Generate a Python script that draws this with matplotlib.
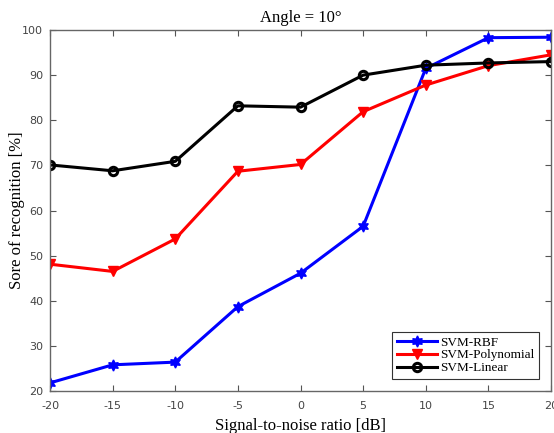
import matplotlib.pyplot as plt
import numpy as np

# data
snr = [-20, -15, -10, -5, 0, 5, 10, 15, 20]
rbf = [21.8, 25.8, 26.4, 38.7, 46.1, 56.5, 91.5, 98.3, 98.4]
poly = [48.1, 46.5, 53.7, 68.7, 70.2, 81.9, 87.8, 92.1, 94.5]
linear = [70.1, 68.8, 70.9, 83.2, 82.9, 90.0, 92.2, 92.7, 93.0]

plt.rcParams['font.family'] = 'Liberation Serif'
plt.rcParams['axes.unicode_minus'] = False

fig = plt.figure(figsize=(5.54, 4.33), dpi=100)
ax = fig.add_axes([0.0903, 0.0970, 0.9043, 0.8337])

ax.plot(snr, rbf, color='blue', lw=2.2, marker=(6, 1, 0), ms=8, label='SVM-RBF')
ax.plot(snr, poly, color='red', lw=2.2, marker='v', ms=7, label='SVM-Polynomial')
ax.plot(snr, linear, color='black', lw=2.2, marker='o', ms=6, mfc='none',
        mew=2.2, label='SVM-Linear')

ax.set_xlim(-20, 20)
ax.set_ylim(20, 100)
ax.set_xticks(np.arange(-20, 21, 5))
ax.set_yticks(np.arange(20, 101, 10))
ax.tick_params(direction='in', top=True, right=True, length=4, width=0.8,
               colors='#555555', labelcolor='#444444')
ax.tick_params(axis='x', pad=7)
ax.tick_params(axis='y', pad=5)
for lab in ax.get_xticklabels() + ax.get_yticklabels():
    lab.set_family('DejaVu Sans')
    lab.set_fontsize(8)
for s in ax.spines.values():
    s.set_color('#666666')
    s.set_linewidth(1.0)

ax.set_title('Angle = 10°', fontsize=12, pad=6)
ax.set_xlabel('Signal-to-noise ratio [dB]', fontsize=12, labelpad=5)
ax.set_ylabel('Sore of recognition [%]', fontsize=12)
ax.yaxis.set_label_coords(-0.05, 0.5)

leg = ax.legend(loc='lower right', fontsize=9.5, fancybox=False, edgecolor='#333333',
                framealpha=1, borderpad=0.35, labelspacing=0.05, handlelength=3.0,
                handletextpad=0.3, bbox_to_anchor=(0.99, 0.015))
leg.get_frame().set_linewidth(0.8)

fig.savefig('out.png', dpi=100)
